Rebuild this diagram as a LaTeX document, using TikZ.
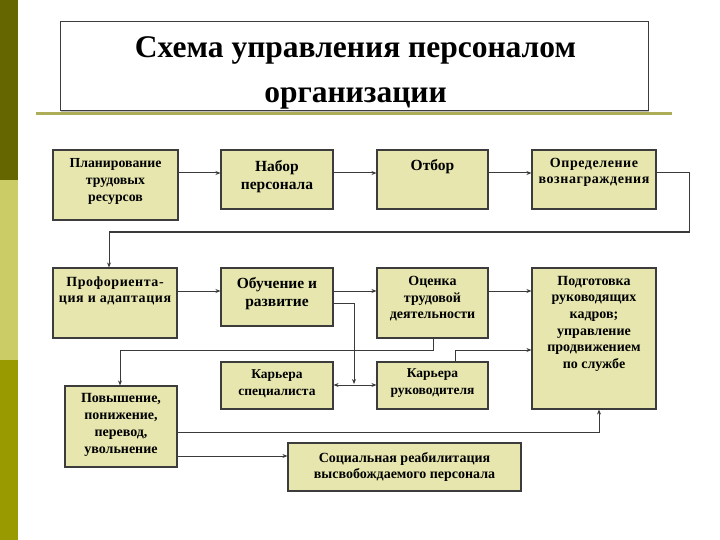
\documentclass[tikz,border=0pt]{standalone}
\usepackage{fontspec}
\setmainfont{Liberation Serif}
\usetikzlibrary{arrows.meta,shadows}
\definecolor{boxfill}{HTML}{E6E6AE}
\definecolor{boxline}{HTML}{3C3C3C}
\definecolor{conn}{HTML}{3A3A3A}
\definecolor{barA}{HTML}{666600}
\definecolor{barB}{HTML}{CCCC66}
\definecolor{barC}{HTML}{999900}
\definecolor{rule}{HTML}{AEAE58}
\begin{document}
\begin{tikzpicture}[x=1pt,y=-1pt,
  box/.style={draw=boxline, line width=1.1pt, fill=boxfill, inner sep=0pt,
    drop shadow={shadow xshift=1.3pt, shadow yshift=-1.3pt, fill=black!45, opacity=.55}},
  txt/.style={font=\bfseries\fontsize{14}{16.6}\selectfont, align=center, inner sep=0pt, anchor=north},
  bigtxt/.style={font=\bfseries\fontsize{15.5}{18.5}\selectfont, align=center, inner sep=0pt, anchor=north},
  conn/.style={draw=conn, line width=1pt},
  arr/.style={conn, -{Stealth[length=5pt,width=4pt]}},
  darr/.style={conn, {Stealth[length=5pt,width=4pt]}-{Stealth[length=5pt,width=4pt]}}]
\useasboundingbox (0,0) rectangle (720,540);
% left bar
\fill[barA] (0,0) rectangle (18,180);
\fill[barB] (0,180) rectangle (18,360);
\fill[barC] (0,360) rectangle (18,540);
% title
\node[draw=boxline, line width=1pt, fill=white, inner sep=0pt, minimum width=588pt, minimum height=89pt,
  drop shadow={shadow xshift=1.3pt, shadow yshift=-1.3pt, fill=black!45, opacity=.55}] (tbox) at (354,66.5) {};
\node[font=\bfseries\fontsize{31.5}{45}\selectfont, align=center, inner sep=0pt, anchor=north] (title) at (355.5,36)
  {Схема управления персоналом\\организации};
\draw[rule, line width=2.6pt] (36,113.5) -- (672,113.5);
% boxes
\node[box, minimum width=125pt, minimum height=70pt] (plan) at (115.5,185) {};
\node[box, minimum width=112pt, minimum height=59pt] (nabor) at (277,179.5) {};
\node[box, minimum width=111pt, minimum height=59pt] (otbor) at (432.5,179.5) {};
\node[box, minimum width=124pt, minimum height=59pt] (opred) at (594,179.5) {};
\node[box, minimum width=124pt, minimum height=70pt] (prof) at (115,303) {};
\node[box, minimum width=112pt, minimum height=58pt] (obuch) at (277,297) {};
\node[box, minimum width=111pt, minimum height=70pt] (ocen) at (432.5,303) {};
\node[box, minimum width=124pt, minimum height=141pt] (podg) at (594,338.5) {};
\node[box, minimum width=112pt, minimum height=47pt] (kspec) at (277,385.5) {};
\node[box, minimum width=111pt, minimum height=47pt] (kruk) at (432.5,385.5) {};
\node[box, minimum width=112pt, minimum height=81pt] (povysh) at (121,426.5) {};
\node[box, minimum width=233pt, minimum height=48pt] (soc) at (404.5,467) {};
% texts
\node[txt, font=\bfseries\fontsize{13.8}{17}\selectfont] (planT) at (115.5,158) {Планирование\\трудовых\\ресурсов};
\node[bigtxt] (naborT) at (277,159.8) {Набор\\персонала};
\node[bigtxt] (otborT) at (432.5,159) {Отбор};
\node[txt, font=\bfseries\fontsize{14}{16.2}\selectfont\addfontfeatures{LetterSpace=4}] (opredT) at (594,158) {Определение\\вознаграждения};
\node[txt, font=\bfseries\fontsize{14}{15.6}\selectfont\addfontfeatures{LetterSpace=4}] (profT) at (115,276.5) {Профориента-\\ция и адаптация};
\node[bigtxt] (obuchT) at (277,277) {Обучение и\\развитие};
\node[txt] (ocenT) at (432.5,276) {Оценка\\трудовой\\деятельности};
\node[txt] (podgT) at (594,276) {Подготовка\\руководящих\\кадров;\\управление\\продвижением\\по службе};
\node[txt, font=\bfseries\fontsize{13.5}{17}\selectfont] (kspecT) at (277,369) {Карьера\\специалиста};
\node[txt, font=\bfseries\fontsize{13.5}{17}\selectfont] (krukT) at (432.5,368.5) {Карьера\\руководителя};
\node[txt, font=\bfseries\fontsize{14}{17}\selectfont] (povyshT) at (121,393) {Повышение,\\понижение,\\перевод,\\увольнение};
\node[txt, font=\bfseries\fontsize{14}{15.5}\selectfont] (socT) at (404.5,452.3) {Социальная реабилитация\\высвобождаемого персонала};
% routing coordinates
\coordinate (r1) at (0,173);
\coordinate (r2) at (0,291);
\coordinate (c1) at (689,173);
\coordinate (c2) at (689,232);
\coordinate (c3) at (109,232);
\coordinate (d1) at (354,303);
\coordinate (d2) at (354,384);
\coordinate (k) at (0,385);
\coordinate (e1) at (433,350);
\coordinate (e2) at (120,350);
\coordinate (f1) at (455,350);
\coordinate (g1) at (599,432);
\coordinate (g0) at (0,432);
\coordinate (h0) at (0,456);
% connectors
\draw[arr] (plan.east |- r1) -- (nabor.west |- r1);
\draw[arr] (nabor.east |- r1) -- (otbor.west |- r1);
\draw[arr] (otbor.east |- r1) -- (opred.west |- r1);
\draw[arr] (opred.east |- r1) -- (c1) -- (c2) -- (c3) -- (c3 |- prof.north);
\draw[arr] (prof.east |- r2) -- (obuch.west |- r2);
\draw[arr] (obuch.east |- r2) -- (ocen.west |- r2);
\draw[arr] (ocen.east |- r2) -- (podg.west |- r2);
\draw[arr] (obuch.east |- d1) -- (d1) -- (d2);
\draw[darr] (kspec.east |- k) -- (kruk.west |- k);
\draw[arr] (e1 |- ocen.south) -- (e1) -- (e2) -- (e2 |- povysh.north);
\draw[arr] (f1 |- kruk.north) -- (f1) -- (podg.west |- f1);
\draw[arr] (povysh.east |- g0) -- (g1) -- (g1 |- podg.south);
\draw[arr] (povysh.east |- h0) -- (soc.west |- h0);
\end{tikzpicture}
\end{document}
